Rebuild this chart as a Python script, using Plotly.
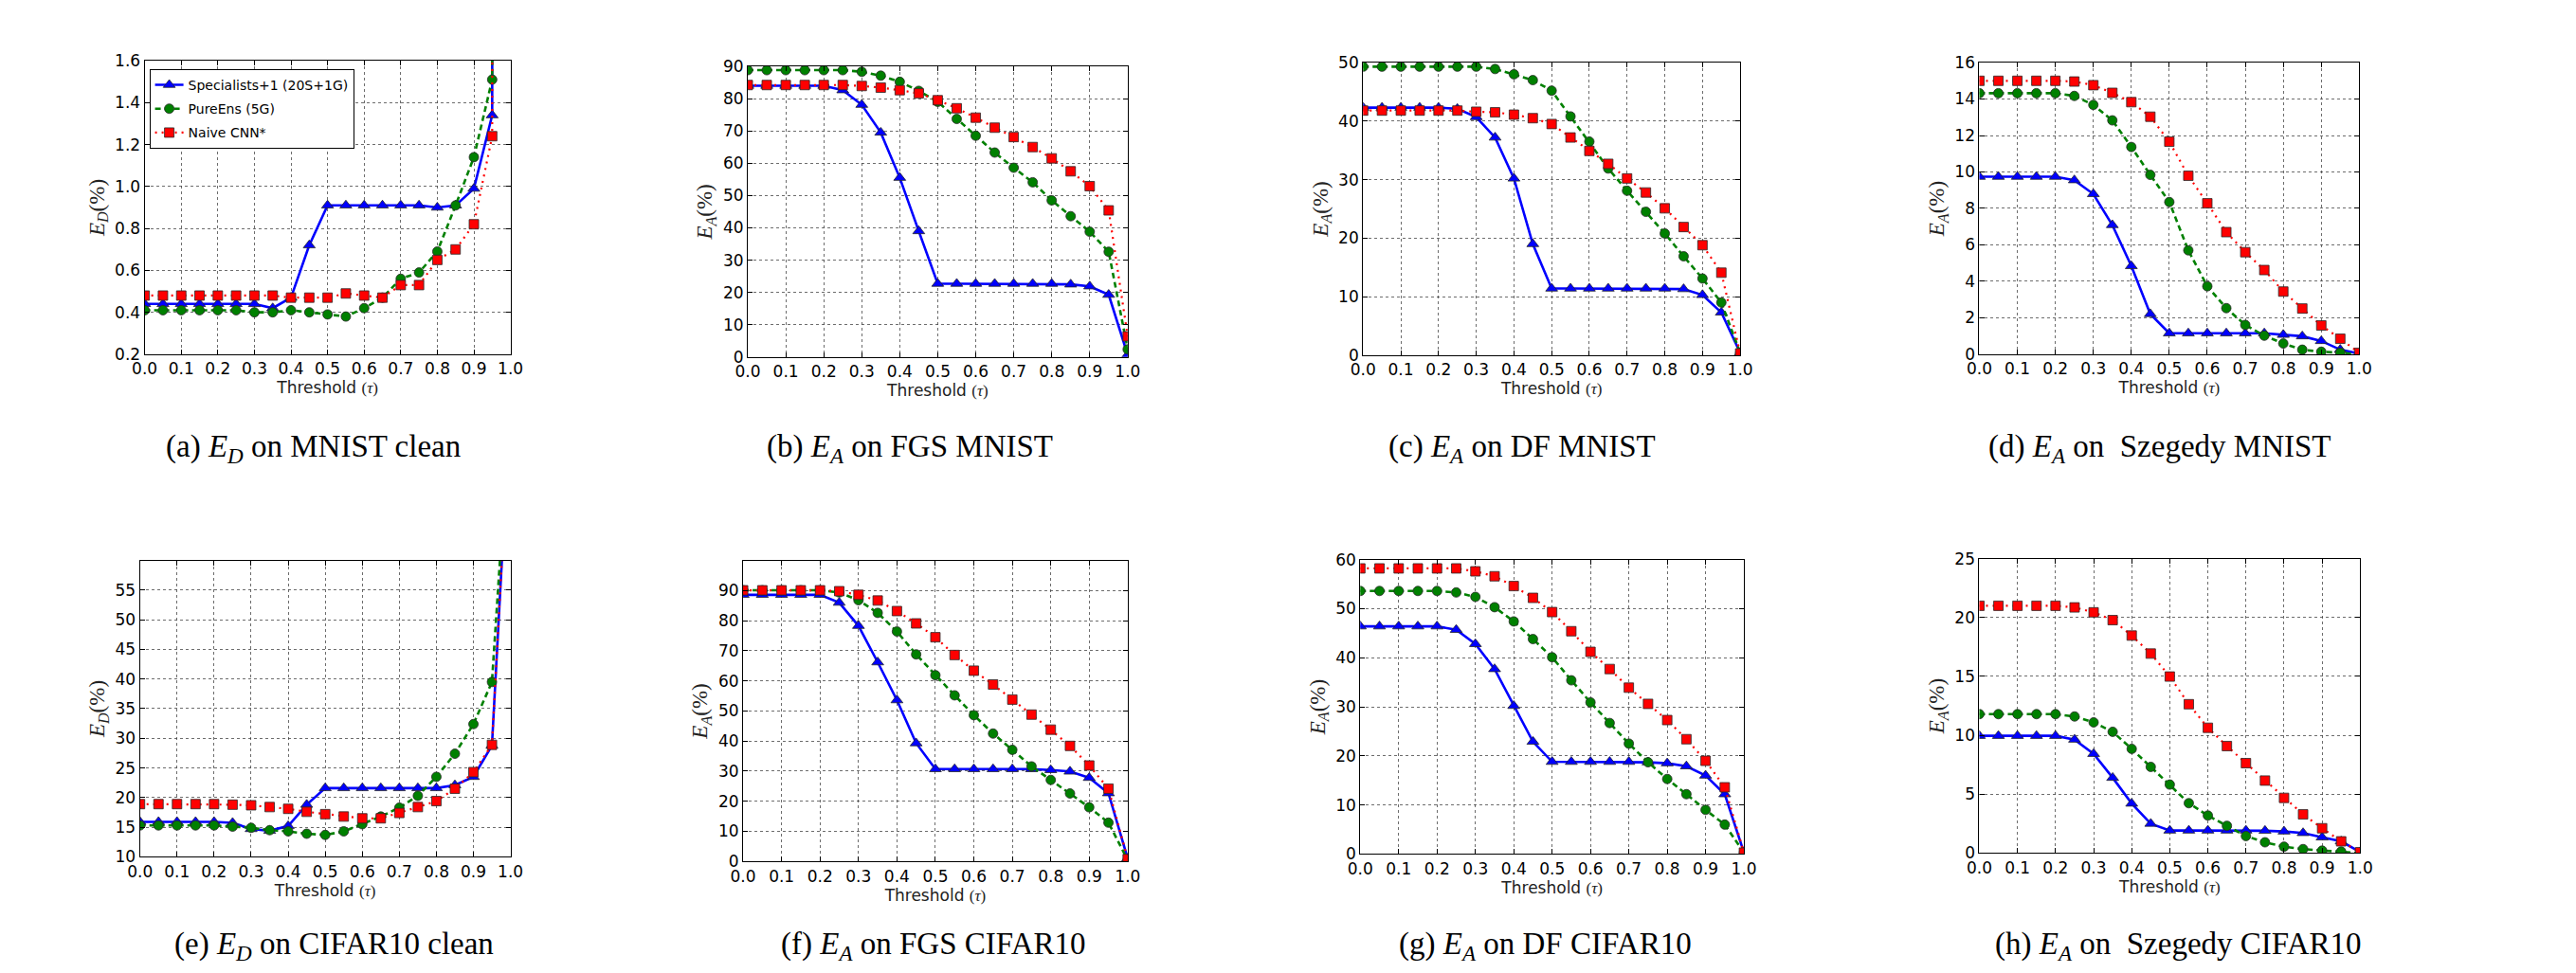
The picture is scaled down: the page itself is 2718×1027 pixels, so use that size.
import plotly.graph_objects as go
from plotly.subplots import make_subplots

# ---------------- data ----------------
thresholds = [0.0, 0.05, 0.1, 0.15, 0.2, 0.25, 0.3, 0.35, 0.4, 0.45, 0.5,
              0.55, 0.6, 0.65, 0.7, 0.75, 0.8, 0.85, 0.9, 0.95, 1.0]

series_names = ["Specialists+1 (20S+1G)", "PureEns (5G)", "Naive CNN*"]

# (a) E_D on MNIST clean
spec_a = [0.44, 0.44, 0.44, 0.44, 0.44, 0.44, 0.44, 0.42, 0.47, 0.72, 0.91,
          0.91, 0.91, 0.91, 0.91, 0.91, 0.90, 0.91, 0.99, 1.34, 100]
pure_a = [0.41, 0.41, 0.41, 0.41, 0.41, 0.41, 0.40, 0.40, 0.41, 0.40, 0.39,
          0.38, 0.42, 0.47, 0.56, 0.59, 0.69, 0.91, 1.14, 1.51, 100]
naive_a = [0.48, 0.48, 0.48, 0.48, 0.48, 0.48, 0.48, 0.48, 0.47, 0.47, 0.47,
           0.49, 0.48, 0.47, 0.53, 0.53, 0.65, 0.70, 0.82, 1.24, 100]

# (b) E_A on FGS MNIST
spec_b = [84.0, 84.0, 84.0, 84.0, 84.0, 82.6, 78.1, 69.5, 55.5, 39.0, 22.7,
          22.7, 22.7, 22.7, 22.7, 22.7, 22.7, 22.5, 21.9, 19.3, 0.7]
pure_b = [88.8, 88.8, 88.8, 88.8, 88.8, 88.8, 88.3, 87.1, 85.2, 82.4, 79.0,
          73.7, 68.5, 63.3, 58.6, 54.1, 48.5, 43.6, 38.8, 32.6, 2.4]
naive_b = [84.2, 84.2, 84.2, 84.2, 84.2, 84.2, 83.9, 83.4, 82.6, 81.6, 79.5,
           77.0, 74.1, 71.0, 68.1, 65.0, 61.5, 57.5, 52.9, 45.4, 6.4]

# (c) E_A on DF MNIST
spec_c = [42.3, 42.3, 42.3, 42.3, 42.3, 42.1, 40.7, 37.2, 30.2, 19.0, 11.4,
          11.4, 11.4, 11.4, 11.4, 11.4, 11.4, 11.3, 10.3, 7.3, 0.4]
pure_c = [49.3, 49.3, 49.3, 49.3, 49.3, 49.3, 49.3, 48.9, 48.0, 47.0, 45.2,
          40.8, 36.5, 31.9, 28.1, 24.5, 20.8, 16.9, 13.1, 9.0, 0.4]
naive_c = [41.8, 41.8, 41.8, 41.8, 41.8, 41.8, 41.6, 41.5, 41.1, 40.5, 39.5,
           37.2, 34.9, 32.7, 30.2, 27.8, 25.1, 21.9, 18.8, 14.1, 0.3]

# (d) E_A on Szegedy MNIST
spec_d = [9.74, 9.74, 9.74, 9.74, 9.74, 9.55, 8.79, 7.09, 4.84, 2.21, 1.15,
          1.15, 1.15, 1.15, 1.15, 1.15, 1.07, 0.99, 0.73, 0.25, 0.03]
pure_d = [14.32, 14.32, 14.32, 14.32, 14.32, 14.17, 13.68, 12.83, 11.37, 9.84, 8.35,
          5.70, 3.73, 2.53, 1.61, 1.02, 0.59, 0.25, 0.14, 0.08, 0.0]
naive_d = [15.0, 15.0, 15.0, 15.0, 15.0, 14.96, 14.76, 14.34, 13.83, 13.03, 11.66,
           9.79, 8.28, 6.70, 5.60, 4.62, 3.44, 2.51, 1.58, 0.85, 0.08]

# (e) E_D on CIFAR10 clean
spec_e = [15.9, 15.9, 15.9, 15.9, 15.9, 15.75, 14.7, 14.4, 15.2, 18.8, 21.6,
          21.6, 21.6, 21.6, 21.6, 21.6, 21.6, 22.1, 23.5, 28.8, 87]
pure_e = [15.3, 15.3, 15.3, 15.3, 15.3, 15.1, 14.9, 14.5, 14.3, 13.9, 13.7,
          14.3, 15.5, 16.8, 18.3, 20.3, 23.5, 27.4, 32.4, 39.5, 87]
naive_e = [18.9, 18.9, 18.9, 18.9, 18.9, 18.8, 18.7, 18.4, 18.1, 17.6, 17.2,
           16.8, 16.5, 16.5, 17.4, 18.4, 19.4, 21.5, 24.3, 28.9, 87]

# (f) E_A on FGS CIFAR10
spec_f = [88.6, 88.6, 88.6, 88.6, 88.6, 86.0, 78.3, 66.2, 53.6, 39.3, 30.7,
          30.7, 30.7, 30.7, 30.7, 30.7, 30.4, 29.9, 27.8, 22.7, 1.0]
pure_f = [90.1, 90.1, 90.1, 90.1, 90.1, 89.4, 86.8, 82.6, 76.4, 68.8, 61.9,
          55.2, 48.6, 42.5, 37.1, 31.6, 27.1, 22.6, 18.0, 12.9, 0.5]
naive_f = [90.1, 90.1, 90.1, 90.1, 90.1, 89.8, 88.6, 86.7, 83.2, 79.1, 74.5,
           68.6, 63.4, 58.8, 53.8, 48.8, 43.8, 38.4, 31.9, 24.2, 0.8]

# (g) E_A on DF CIFAR10
spec_g = [46.4, 46.4, 46.4, 46.4, 46.4, 45.7, 42.8, 37.7, 30.2, 22.9, 18.8,
          18.8, 18.8, 18.8, 18.8, 18.7, 18.5, 17.9, 16.0, 12.2, 0.3]
pure_g = [53.6, 53.6, 53.6, 53.6, 53.6, 53.3, 52.4, 50.3, 47.4, 43.8, 40.1,
          35.4, 30.9, 26.7, 22.5, 18.7, 15.3, 12.2, 9.0, 6.0, 0.3]
naive_g = [58.2, 58.2, 58.2, 58.2, 58.2, 58.2, 57.6, 56.6, 54.6, 52.2, 49.3,
           45.4, 41.2, 37.7, 33.9, 30.6, 27.3, 23.4, 19.0, 13.6, 0.3]

# (h) E_A on Szegedy CIFAR10
spec_h = [9.96, 9.96, 9.96, 9.96, 9.96, 9.64, 8.43, 6.40, 4.21, 2.50, 1.92,
          1.92, 1.92, 1.92, 1.92, 1.90, 1.84, 1.71, 1.34, 1.0, 0.08]
pure_h = [11.8, 11.8, 11.8, 11.8, 11.8, 11.6, 11.1, 10.3, 8.85, 7.32, 5.82,
          4.24, 3.19, 2.32, 1.45, 0.92, 0.55, 0.34, 0.21, 0.13, 0.0]
naive_h = [21.0, 21.0, 21.0, 21.0, 21.0, 20.86, 20.44, 19.78, 18.47, 16.94, 14.99,
           12.64, 10.64, 9.09, 7.64, 6.16, 4.69, 3.29, 2.11, 1.0, 0.08]

captions = [
    "(a) <i>E</i><sub><i>D</i></sub> on MNIST clean",
    "(b) <i>E</i><sub><i>A</i></sub> on FGS MNIST",
    "(c) <i>E</i><sub><i>A</i></sub> on DF MNIST",
    "(d) <i>E</i><sub><i>A</i></sub> on\u00a0 Szegedy MNIST",
    "(e) <i>E</i><sub><i>D</i></sub> on CIFAR10 clean",
    "(f) <i>E</i><sub><i>A</i></sub> on FGS CIFAR10",
    "(g) <i>E</i><sub><i>A</i></sub> on DF CIFAR10",
    "(h) <i>E</i><sub><i>A</i></sub> on\u00a0 Szegedy CIFAR10",
]
ylabels = ["D", "A", "A", "A", "D", "A", "A", "A"]
y_ranges = [[0.2, 1.6], [0, 90], [0, 50], [0, 16], [10, 60], [0, 100], [0, 60], [0, 25]]
y_ticks = [
    [0.2, 0.4, 0.6, 0.8, 1.0, 1.2, 1.4, 1.6],
    [0, 10, 20, 30, 40, 50, 60, 70, 80, 90],
    [0, 10, 20, 30, 40, 50],
    [0, 2, 4, 6, 8, 10, 12, 14, 16],
    [10, 15, 20, 25, 30, 35, 40, 45, 50, 55],
    [0, 10, 20, 30, 40, 50, 60, 70, 80, 90],
    [0, 10, 20, 30, 40, 50, 60],
    [0, 5, 10, 15, 20, 25],
]
y_tick_fmt = [".1f", "d", "d", "d", "d", "d", "d", "d"]
x_ticks = [0.0, 0.1, 0.2, 0.3, 0.4, 0.5, 0.6, 0.7, 0.8, 0.9, 1.0]

panels = [
    (spec_a, pure_a, naive_a), (spec_b, pure_b, naive_b),
    (spec_c, pure_c, naive_c), (spec_d, pure_d, naive_d),
    (spec_e, pure_e, naive_e), (spec_f, pure_f, naive_f),
    (spec_g, pure_g, naive_g), (spec_h, pure_h, naive_h),
]

# ---------------- layout geometry (pixels) ----------------
W, H = 2718, 1027
boxes = [  # x0, x1, ytop, ybottom
    (132, 522, 47, 363), (775, 1180, 53, 366), (1431, 1833, 49, 364), (2088, 2493, 49, 363),
    (127, 522, 585, 904), (770, 1180, 585, 909), (1428, 1837, 584, 901), (2088, 2494, 583, 900),
]
caption_pos = [(312, 465), (948, 465), (1600, 465), (2280, 465),
               (334, 1000), (973, 1000), (1625, 1000), (2300, 1000)]

styles = [
    dict(color="#0000FF", dash="solid", width=2.6, symbol="triangle-up", size=11),
    dict(color="#008000", dash="6px,4px", width=2.6, symbol="circle", size=10),
    dict(color="#FF0000", dash="2px,5px", width=2.2, symbol="square", size=10),
]

fig = make_subplots(rows=2, cols=4)

tick_font = dict(family="DejaVu Sans", size=17, color="black")

for i, (vals, cap) in enumerate(zip(panels, captions)):
    r, c = i // 4 + 1, i % 4 + 1
    for k, (ys, st) in enumerate(zip(vals, styles)):
        fig.add_trace(go.Scatter(
            x=thresholds, y=ys, mode="lines+markers",
            name=series_names[k], legendgroup=series_names[k], showlegend=(i == 0),
            line=dict(color=st["color"], dash=st["dash"], width=st["width"]),
            marker=dict(symbol=st["symbol"], size=st["size"], color=st["color"],
                        line=dict(color="rgba(40,40,40,0.8)", width=1)),
        ), row=r, col=c)

    x0, x1, yt, yb = boxes[i]
    xa = "xaxis" if i == 0 else f"xaxis{i+1}"
    ya = "yaxis" if i == 0 else f"yaxis{i+1}"
    fig.update_layout(**{
        xa: dict(domain=[x0 / W, x1 / W], range=[0, 1], tickvals=x_ticks, tickformat=".1f",
                 showline=True, linecolor="black", linewidth=1.2, mirror="allticks",
                 ticks="inside", ticklen=5, tickcolor="black",
                 showgrid=True, gridcolor="rgba(60,60,60,0.75)", griddash="dot", gridwidth=1,
                 zeroline=False, tickfont=tick_font,
                 title=dict(text="Threshold <span style='font-family:Liberation Serif'>(<i>τ</i>)</span>",
                            font=dict(family="DejaVu Sans", size=17, color="#222"), standoff=4)),
        ya: dict(domain=[1 - yb / H, 1 - yt / H], range=y_ranges[i], tickvals=y_ticks[i],
                 tickformat=y_tick_fmt[i],
                 showline=True, linecolor="black", linewidth=1.2, mirror="allticks",
                 ticks="inside", ticklen=5, tickcolor="black",
                 showgrid=True, gridcolor="rgba(60,60,60,0.75)", griddash="dot", gridwidth=1,
                 zeroline=False, tickfont=tick_font,
                 title=dict(text=f"<i>E</i><sub><i>{ylabels[i]}</i></sub>(%)",
                            font=dict(family="Liberation Serif", size=23, color="#222"), standoff=4)),
    })
    cx, cy = caption_pos[i]
    fig.add_annotation(x=cx / W, y=1 - cy / H, xref="paper", yref="paper",
                       text=cap, showarrow=False, xanchor="center", yanchor="middle",
                       font=dict(family="Liberation Serif", size=33, color="black"))

fig.update_layout(
    width=W, height=H, margin=dict(l=0, r=0, t=0, b=0),
    paper_bgcolor="white", plot_bgcolor="white",
    legend=dict(x=137 / W, y=1 - 56 / H, xanchor="left", yanchor="top",
                bgcolor="white", bordercolor="black", borderwidth=1,
                font=dict(family="DejaVu Sans", size=14, color="black"),
                itemwidth=30, tracegroupgap=4),
)

fig.write_html("out.html")
